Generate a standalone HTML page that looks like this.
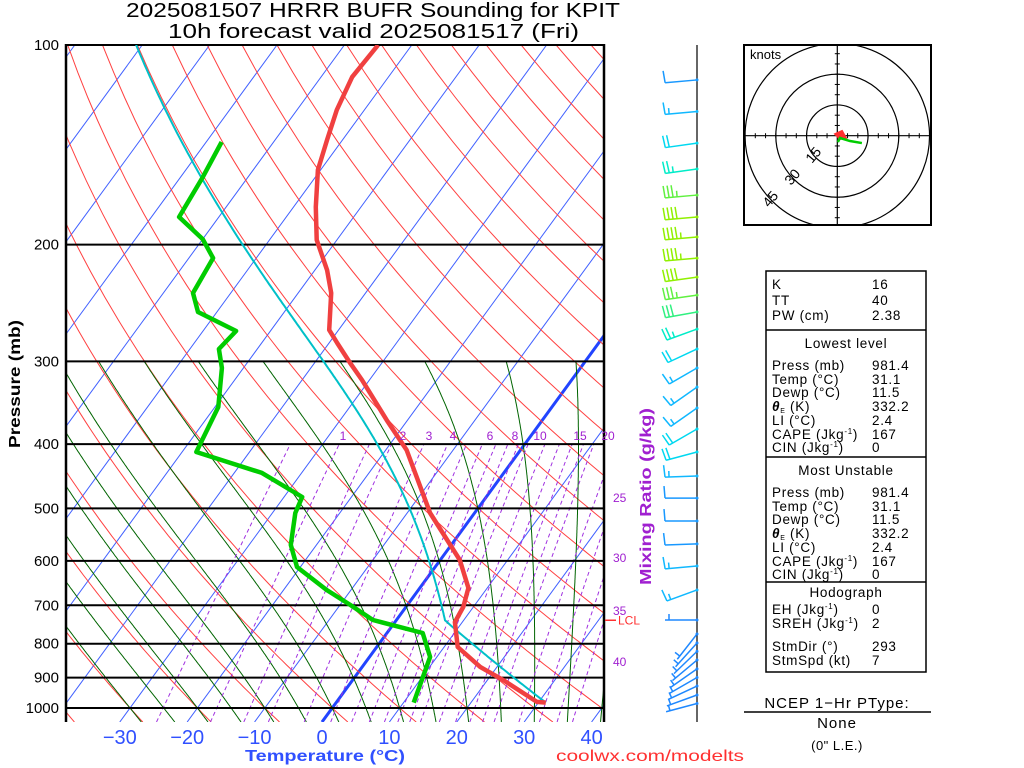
<!DOCTYPE html>
<html><head><meta charset="utf-8"><style>
html,body{margin:0;padding:0;background:#fff;}
svg{display:block;font-family:"Liberation Sans",sans-serif;}
</style></head><body>
<svg id="c" width="1024" height="768" viewBox="0 0 1024 768" xmlns="http://www.w3.org/2000/svg">
<defs><clipPath id="pc"><rect x="66" y="45" width="538" height="677"/></clipPath></defs>
<rect width="1024" height="768" fill="#fff"/>
<text x="126" y="17" font-size="20" textLength="494" lengthAdjust="spacingAndGlyphs">2025081507 HRRR BUFR Sounding for KPIT</text>
<text x="168" y="38" font-size="20" textLength="411" lengthAdjust="spacingAndGlyphs">10h forecast valid 2025081517 (Fri)</text>
<g id="grid" clip-path="url(#pc)"></g>
<g id="isob"></g>
<g id="prof" clip-path="url(#pc)"></g>
<g id="axes"></g>
<g id="barbs"></g>
<g id="hodo"></g>
<g id="tbl"></g>
</svg>
<script>
const tempP=[100,111.7,125.3,139,154.3,175.5,196.8,218.5,236.6,269,281.5,301.8,320.1,367.9,408.2,508,598,659,704,742,809,867,907,979,981.4];
const tempT=[-65.0,-65.4,-64.1,-62.3,-60.4,-56.7,-53.0,-48.2,-45.1,-41.4,-38.8,-34.7,-31.1,-23.1,-16.9,-6.6,2.9,7.2,8.5,8.9,12.0,17.5,22.3,29.7,31.1];
const dewP=[140.1,158.2,181.7,196.2,209.6,236.6,252.8,270,287.4,307,351.6,411,442,480.6,508,567.6,612.9,663.7,699,736.7,770.7,837.8,981.4];
const dewT=[-77.7,-76.7,-75.9,-70.0,-66.4,-65.6,-62.8,-55.1,-55.7,-53.2,-49.5,-47.9,-35.9,-27.3,-26.6,-23.8,-20.5,-13.6,-8.5,-3.5,5.3,9.0,11.5];
const sfcP=981.4, sfcT=31.1, sfcTd=11.5;
const barbP=[112.9,126,140.6,153.8,168.4,181.7,194.8,209.6,223.9,238.4,252.8,268.2,287.4,307,328.1,352.8,379.5,411,446.8,482.4,522.4,565.6,610.8,663.7,736.7,773.4,798,821.5,846.5,873,899.5,926.5,955.9,984.5];
const barbDir=[265,265,262,262,265,265,265,265,262,262,260,250,245,240,235,235,240,255,268,270,270,268,265,250,270,218,222,226,230,235,240,245,250,255];
const barbSpd=[10,15,20,25,35,40,45,45,40,35,30,25,20,15,15,15,20,20,15,10,10,10,15,15,5,5,5,5,5,5,5,5,5,5];
const hodoGreenU=[0.3,1.3,2.8,6.2,12];
const hodoGreenV=[-3.1,-1.1,-1.6,-2.6,-3.6];
const hodoRedU=[-1,2.3,4.2,1.3,-1];
const hodoRedV=[0.8,2.3,-1.1,-1.6,0.8];
const pressLabels=[100,200,300,400,500,600,700,800,900,1000];
const tempLabels=[-30,-20,-10,0,10,20,30,40];
const mixRatios=[0.5,1,1.5,2,3,4,5,6,7,8,9,10,12,14,16,18,20,25,30,35,40];

const NS="http://www.w3.org/2000/svg";
function yP(p){return 45+(Math.log10(p)-2)*663;}
function xT(T,p){return 322+6.74*T+0.73*(722-yP(p));}
function mk(tag,attrs,parent){const e=document.createElementNS(NS,tag);for(const k in attrs)e.setAttribute(k,attrs[k]);parent.appendChild(e);return e;}
function pathOf(pts){return pts.map((q,i)=>(i?"L":"M")+xT(q[1],q[0]).toFixed(1)+","+yP(q[0]).toFixed(1)).join("");}
function es(Tc){return 6.112*Math.exp(17.67*Tc/(Tc+243.5));}
function moistPath(Tc0,p0,pEnd){let T=Tc0+273.15,p=p0;const pts=[[p,Tc0]];const dp=pEnd<p0?-2:2;
 while((dp<0&&p>pEnd)||(dp>0&&p<pEnd)){const e=es(T-273.15);const rs=0.622*e/(p-e);
 const g=(287*T+2.5e6*rs)/(p*(1005+2.5e6*2.5e6*rs*0.622/(287*T*T)));T+=g*dp;p+=dp;pts.push([p,T-273.15]);}
 return pts;}
const grid=document.getElementById('grid');
for(let T=-140;T<=40;T+=10){
 const l=mk('line',{x1:xT(T,1050),y1:yP(1050),x2:xT(T,100),y2:yP(100),stroke:T===0?'#2244ff':'#4060ff','stroke-width':T===0?3:1},grid);
 
 
}
for(let T0=-40;T0<=210;T0+=10){const th=T0+273.15;const pts=[];
 for(let p=1050;p>=100;p-=10)pts.push([p,th*Math.pow(p/1000,0.286)-273.15]);
 const e=mk('path',{d:pathOf(pts),fill:'none',stroke:'#ff4040','stroke-width':1},grid);
 
 
}
for(let T0=-30;T0<=40;T0+=5){const up=moistPath(T0,1000,300);const dn=moistPath(T0,1000,1050).reverse();
 const e=mk('path',{d:pathOf(dn.concat(up)),fill:'none',stroke:'#006400','stroke-width':1},grid);
 
 
}
for(const w of mixRatios){const pts=[];for(let p=1050;p>=400;p-=10){const ww=w/1000;const e=ww*p/(0.622+ww);const a=Math.log(e/6.112);pts.push([p,243.5*a/(17.67-a)]);}
 const e=mk('path',{d:pathOf(pts),fill:'none',stroke:'#a030e0','stroke-width':1,'stroke-dasharray':'4,3'},grid);
 
 
}
const isob=document.getElementById('isob');
for(const p of pressLabels){const l=mk('line',{x1:66,x2:604,y1:yP(p),y2:yP(p),stroke:'#000','stroke-width':2},isob);
 
 }
let b1=mk('line',{x1:66,x2:66,y1:44,y2:722,stroke:'#000','stroke-width':2.5},isob);


let b2=mk('line',{x1:604,x2:604,y1:44,y2:722,stroke:'#000','stroke-width':2.5},isob);


const prof=document.getElementById('prof');
const Tk=sfcT+273.15,Tdk=sfcTd+273.15;
const Tl=1/(1/(Tdk-56)+Math.log(Tk/Tdk)/800)+56;const pl=sfcP*Math.pow(Tl/Tk,3.5);
const parcel=[];for(let p=sfcP;p>pl;p-=5)parcel.push([p,Tk*Math.pow(p/sfcP,0.286)-273.15]);
parcel.push([pl,Tl-273.15]);
const parcelUp=moistPath(Tl-273.15,pl,100);
let pe=mk('path',{d:pathOf(parcel.concat(parcelUp)),fill:'none',stroke:'#00c0c8','stroke-width':2},prof);


let te=mk('path',{d:pathOf(tempP.map((p,i)=>[p,tempT[i]])),fill:'none',stroke:'#f04040','stroke-width':4.5,'stroke-linejoin':'round'},prof);


let de=mk('path',{d:pathOf(dewP.map((p,i)=>[p,dewT[i]])),fill:'none',stroke:'#00cc00','stroke-width':4.5,'stroke-linejoin':'round'},prof);


const axes=document.getElementById('axes');
for(const p of pressLabels){const t=mk('text',{x:59,y:yP(p)+5,'font-size':15,'text-anchor':'end'},axes);t.textContent=p;
 
 }
for(const T of tempLabels){const t=mk('text',{x:322+6.74*T,y:744,'font-size':20,'text-anchor':'middle',fill:'#3050ff'},axes);t.textContent=(T<0?'\u2212':'')+Math.abs(T);
 
 }
function txt(s,a,name){const t=mk('text',a,axes);t.textContent=s;return t;}
txt('Pressure (mb)',{x:0,y:0,'font-size':16,'font-weight':'bold',transform:'translate(20,448) rotate(-90)',textLength:128,lengthAdjust:'spacingAndGlyphs'},'y-axis-title');
txt('Temperature (\u00B0C)',{x:245,y:761,'font-size':16,'font-weight':'bold',fill:'#3050ff',textLength:160,lengthAdjust:'spacingAndGlyphs'},'x-axis-title');
txt('coolwx.com/modelts',{x:556,y:761,'font-size':16,fill:'#ff3030',textLength:188,lengthAdjust:'spacingAndGlyphs'},'source-credit');
txt('Mixing Ratio (g/kg)',{x:0,y:0,'font-size':16,'font-weight':'bold',fill:'#a020d0',transform:'translate(651,585) rotate(-90)',textLength:177,lengthAdjust:'spacingAndGlyphs'},'mixing-ratio-title');
const mrTop=[['1',343],['2',403],['3',429],['4',453],['6',490],['8',515],['10',540],['15',580],['20',608]];
for(const m of mrTop)txt(m[0],{x:m[1],y:440,'font-size':12,fill:'#a020d0','text-anchor':'middle'},'mixing-ratio-label');
const mrR=[['25',502],['30',562],['35',615],['40',666]];
for(const m of mrR)txt(m[0],{x:613,y:m[1],'font-size':12,fill:'#a020d0'},'mixing-ratio-label');
let lcl=mk('line',{x1:605,x2:616,y1:yP(pl),y2:yP(pl),stroke:'#ff3030','stroke-width':1.5},axes);


txt('LCL',{x:618,y:yP(pl)+4,'font-size':12,fill:'#ff3030'},'lcl-label');
const bg=document.getElementById('barbs');
let st=mk('line',{x1:697,x2:697,y1:45,y2:722,stroke:'#000','stroke-width':1.2},bg);


function bcol(s){if(s<10)return '#1e88ff';if(s<15)return '#1898ff';if(s<20)return '#10b8ff';if(s<25)return '#00d8f0';if(s<30)return '#00ecc8';if(s<35)return '#30f080';if(s<40)return '#60f040';return '#90f000';}
barbP.forEach((p,i)=>{const y=yP(p),x0=697,d=barbDir[i]*Math.PI/180,sx=Math.sin(d),sy=-Math.cos(d),L=32;
 const tx=x0+L*sx,ty=y+L*sy,px=-sy,py=sx,c=bcol(barbSpd[i]);
 const g=mk('g',{stroke:c,'stroke-width':1.5,fill:'none'},bg);
 
 
 mk('line',{x1:x0,y1:y,x2:tx,y2:ty},g);
 mk('circle',{cx:x0,cy:y,r:1.5,fill:c,stroke:'none'},g);
 let s=barbSpd[i],k=0;
 while(s>=10){const bx=tx-sx*k*4,by=ty-sy*k*4;mk('line',{x1:bx,y1:by,x2:bx+px*12+sx*1,y2:by+py*12+sy*1},g);s-=10;k++;}
 if(s>=5){if(k===0)k=1;const bx=tx-sx*k*4,by=ty-sy*k*4;mk('line',{x1:bx,y1:by,x2:bx+px*6,y2:by+py*6},g);}
});
const hg=document.getElementById('hodo');const hx=837.3,hy=135.7,hs=2.05;
let hb=mk('rect',{x:744,y:45,width:187,height:180,fill:'none',stroke:'#000','stroke-width':2},hg);


const hclip=mk('clipPath',{id:'hc'},hg);mk('rect',{x:744,y:45,width:187,height:180},hclip);
const hin=mk('g',{'clip-path':'url(#hc)'},hg);
for(const r of [15,30,45]){const c=mk('circle',{cx:hx,cy:hy,r:r*hs,fill:'none',stroke:'#000','stroke-width':1.2},hin);
 
 }
mk('line',{x1:744,x2:931,y1:hy,y2:hy,stroke:'#000','stroke-width':1.2},hin);
mk('line',{x1:hx,x2:hx,y1:45,y2:225,stroke:'#000','stroke-width':1.2},hin);
for(let k=-9;k<=9;k++){if(!k)continue;const o=k*5*hs;
 mk('line',{x1:hx+o,x2:hx+o,y1:hy-2.5,y2:hy+2.5,stroke:'#000'},hin);
 mk('line',{y1:hy+o,y2:hy+o,x1:hx-2.5,x2:hx+2.5,stroke:'#000'},hin);}
[['15',817,158],['30',796,180],['45',774,202]].forEach(a=>{const t=mk('text',{x:0,y:0,'font-size':14,'text-anchor':'middle',transform:`translate(${a[1]},${a[2]}) rotate(-50)`},hin);t.textContent=a[0];
 
 });
let kn=mk('text',{x:750,y:59,'font-size':13},hg);kn.textContent='knots';


let hr=mk('path',{d:hodoRedU.map((u,i)=>(i?'L':'M')+(hx+u*hs)+','+(hy-hodoRedV[i]*hs)).join('')+'Z',fill:'#ff3030',stroke:'#ff3030','stroke-width':2},hg);


let hgr=mk('path',{d:hodoGreenU.map((u,i)=>(i?'L':'M')+(hx+u*hs)+','+(hy-hodoGreenV[i]*hs)).join(''),fill:'none',stroke:'#00cc00','stroke-width':2.5},hg);


const tb=document.getElementById('tbl');
let tr=mk('rect',{x:766,y:271,width:160,height:401,fill:'none',stroke:'#000','stroke-width':1.5},tb);


for(const y of [330,457,582]){const l=mk('line',{x1:766,x2:926,y1:y,y2:y,stroke:'#000','stroke-width':1.5},tb);
 
 }
function tt(s,x,y,name,anchor){const t=mk('text',{x:x,y:y,'font-size':13.5,'letter-spacing':0.7,'text-anchor':anchor||'start'},tb);t.innerHTML=s;return t;}
const th='<tspan font-weight="bold" font-style="italic">&#952;</tspan><tspan font-size="7" dy="2">E</tspan><tspan dy="-2"> (K)</tspan>';
const rows=[['K','16',289],['TT','40',305],['PW (cm)','2.38',320],
['Press (mb)','981.4',370],['Temp (&#176;C)','31.1',384],['Dewp (&#176;C)','11.5',397],[th,'332.2',411],['LI (&#176;C)','2.4',425],['CAPE (Jkg<tspan font-size="8" dy="-5">-1</tspan><tspan dy="5">)</tspan>','167',439],['CIN (Jkg<tspan font-size="8" dy="-5">-1</tspan><tspan dy="5">)</tspan>','0',452],
['Press (mb)','981.4',497],['Temp (&#176;C)','31.1',511],['Dewp (&#176;C)','11.5',524],[th,'332.2',538],['LI (&#176;C)','2.4',552],['CAPE (Jkg<tspan font-size="8" dy="-5">-1</tspan><tspan dy="5">)</tspan>','167',566],['CIN (Jkg<tspan font-size="8" dy="-5">-1</tspan><tspan dy="5">)</tspan>','0',579],
['EH (Jkg<tspan font-size="8" dy="-5">-1</tspan><tspan dy="5">)</tspan>','0',614],['SREH (Jkg<tspan font-size="8" dy="-5">-1</tspan><tspan dy="5">)</tspan>','2',628],['StmDir (&#176;)','293',651],['StmSpd (kt)','7',665]];
for(const r of rows){tt(r[0],772,r[2],'table-label');tt(r[1],872,r[2],'table-value');}
tt('Lowest level',846,348,'section-lowest-level','middle');
tt('Most Unstable',846,475,'section-most-unstable','middle');
tt('Hodograph',846,597,'section-hodograph','middle');
let pt=mk('text',{x:837,y:708,'font-size':15,'text-anchor':'middle','letter-spacing':1},tb);pt.textContent='NCEP 1\u2212Hr PType:';


let pl2=mk('line',{x1:744,x2:931,y1:712,y2:712,stroke:'#000','stroke-width':1.5},tb);


let pn=mk('text',{x:837,y:728,'font-size':15,'text-anchor':'middle','letter-spacing':1},tb);pn.textContent='None';


let pq=mk('text',{x:837,y:750,'font-size':13,'text-anchor':'middle','letter-spacing':0.5},tb);pq.textContent='(0" L.E.)';


</script>
</body></html>
